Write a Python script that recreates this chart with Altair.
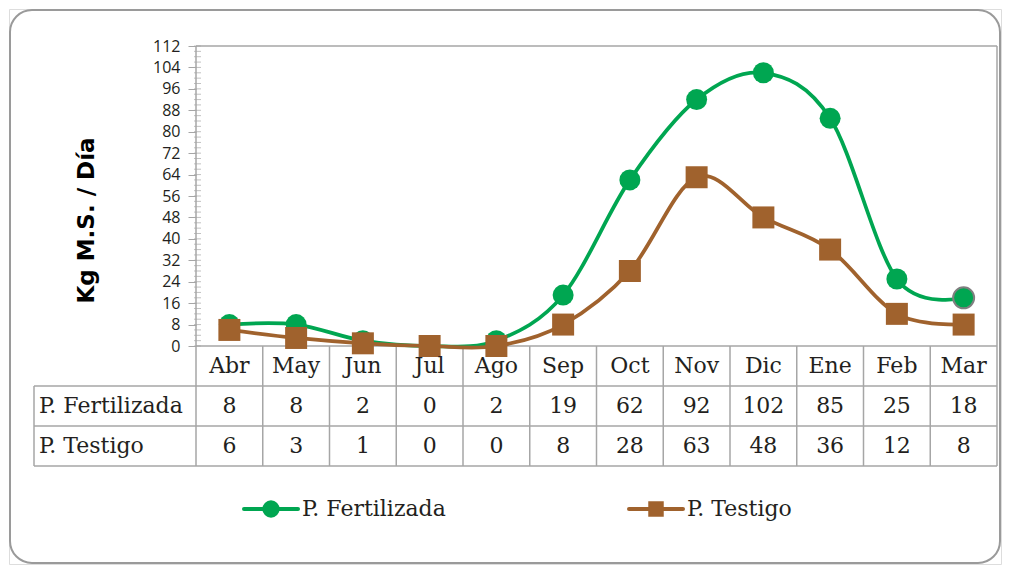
import altair as alt
import pandas as pd

# ---------------- data ----------------
months = ["Abr", "May", "Jun", "Jul", "Ago", "Sep", "Oct", "Nov", "Dic", "Ene", "Feb", "Mar"]
series_names = ["P. Fertilizada", "P. Testigo"]
fertilizada = [8, 8, 2, 0, 2, 19, 62, 92, 102, 85, 25, 18]
testigo = [6, 3, 1, 0, 0, 8, 28, 63, 48, 36, 12, 8]
y_ticks = list(range(0, 113, 8))
y_minor = list(range(0, 113, 2))

# ---------------- layout (page pixels) ----------------
PAD = 1
ORIG = 8 + PAD               # page px of the view's top-left corner
W, H = 992, 555
P_X0, P_LABEL, P_XR = 196, 34, 997     # first column left, label column left, last column right
P_Y112, P_Y0 = 46, 346                 # y=112 and y=0
ROW_PX = 40
LEG_Y = 509
LEG_X = [244, 629]
LEG_SYM_W = 54
FRAME = [10, 1000, 10, 563]            # frame left, right, top, bottom

n = len(months)
X0 = P_X0 - ORIG
Y0 = P_Y0 - ORIG
kx = (P_XR - P_X0) / n
ky = (P_Y0 - P_Y112) / 112.0
x_dom = [-X0 / kx, (W - X0) / kx]
y_dom = [-(H - Y0) / ky, Y0 / ky]
xl = (P_LABEL - P_X0) / kx
row_u = ROW_PX / ky


def px_x(p):
    return (p - P_X0) / kx


def px_y(p):
    return (P_Y0 - p) / ky


GREEN = "#00A651"
BROWN = "#A0622D"
GRID = "#A6A6A6"
TXT = "#231F20"
SERIF = "DejaVu Serif"

XS = alt.Scale(domain=x_dom, nice=False, zero=False)
YS = alt.Scale(domain=y_dom, nice=False, zero=False)
YAX = alt.Axis(
    values=y_ticks, offset=-X0, domain=False, grid=False,
    tickSize=8, tickColor=GRID, tickWidth=1,
    labelFont="Open Sans", labelFontSize=16, labelColor=TXT, labelPadding=8,
    title="Kg M.S. / Día", titleFont="DejaVu Sans", titleFontSize=23,
    titleFontWeight="bold", titleColor="#000000", titleX=86 - P_X0, titleY=220 - ORIG,
    titleAlign="center", titleBaseline="middle", titleAngle=270,
)


def X(f):
    return alt.X(f, type="quantitative", scale=XS, axis=None)


def Y(f):
    return alt.Y(f, type="quantitative", scale=YS, axis=YAX)


# ---------------- tables ----------------
rows = []
for i, m in enumerate(months):
    rows.append({"series": series_names[0], "month": m, "x": i + 0.5, "value": fertilizada[i]})
    rows.append({"series": series_names[1], "month": m, "x": i + 0.5, "value": testigo[i]})
df = pd.DataFrame(rows)

cells = []
for i, m in enumerate(months):
    cells.append({"x": i + 0.5, "y": -0.5 * row_u, "t": m})
    cells.append({"x": i + 0.5, "y": -1.5 * row_u, "t": str(fertilizada[i])})
    cells.append({"x": i + 0.5, "y": -2.5 * row_u, "t": str(testigo[i])})
df_cells = pd.DataFrame(cells)
df_labels = pd.DataFrame([
    {"x": xl, "y": -1.5 * row_u, "t": series_names[0]},
    {"x": xl, "y": -2.5 * row_u, "t": series_names[1]},
])

bottom = -3 * row_u
rules = []
rules.append({"x": 0, "x2": 0, "y": bottom, "y2": 112})
rules.append({"x": n, "x2": n, "y": bottom, "y2": 112})
for i in range(1, n):
    rules.append({"x": i, "x2": i, "y": bottom, "y2": 0})
rules.append({"x": xl, "x2": xl, "y": bottom, "y2": -row_u})
rules.append({"x": 0, "x2": n, "y": 112, "y2": 112})
rules.append({"x": 0, "x2": n, "y": 0, "y2": 0})
for r in (1, 2, 3):
    rules.append({"x": xl, "x2": n, "y": -r * row_u, "y2": -r * row_u})
df_rules = pd.DataFrame(rules)

df_minor = pd.DataFrame({"x": [0] * len(y_minor), "y": y_minor})

leg = []
for k, s in enumerate(series_names):
    x0 = LEG_X[k]
    leg.append({"series": s, "x": px_x(x0), "x2": px_x(x0 + LEG_SYM_W),
                "xc": px_x(x0 + LEG_SYM_W / 2), "xt": px_x(x0 + LEG_SYM_W + 4),
                "y": px_y(LEG_Y)})
df_leg = pd.DataFrame(leg)

df_frame = pd.DataFrame([{"x": px_x(FRAME[0]), "x2": px_x(FRAME[1]),
                          "y": px_y(FRAME[2]), "y2": px_y(FRAME[3])}])

col_scale = alt.Scale(domain=series_names, range=[GREEN, BROWN])

base = alt.Chart(df)

frame = alt.Chart(df_frame).mark_rect(filled=False, stroke="#9A9A9A", strokeWidth=2, cornerRadius=22).encode(
    x=X("x"), x2="x2", y=Y("y"), y2="y2")

grid = alt.Chart(df_rules).mark_rule(color=GRID, strokeWidth=1.5).encode(
    x=X("x"), x2="x2", y=Y("y"), y2="y2")

minor = alt.Chart(df_minor).mark_tick(orient="horizontal", color=GRID, size=7, thickness=1, xOffset=1.5).encode(
    x=X("x"), y=Y("y"))

lines = base.mark_line(interpolate="cardinal", strokeWidth=3.75).encode(
    x=X("x"), y=Y("value"), color=alt.Color("series:N", scale=col_scale, legend=None), detail="series:N")

pts_f = base.transform_filter(alt.datum.series == series_names[0]).mark_point(
    filled=True, opacity=1, shape="circle", size=441, color=GREEN).encode(
    x=X("x"), y=Y("value"),
    stroke=alt.condition("datum.month === 'Mar'", alt.value("#7F7F7F"), alt.value(GREEN)),
    strokeWidth=alt.condition("datum.month === 'Mar'", alt.value(2), alt.value(0)),
)
pts_t = base.transform_filter(alt.datum.series == series_names[1]).mark_point(
    filled=True, opacity=1, shape="square", size=484, color=BROWN).encode(
    x=X("x"), y=Y("value"))

leg_base = alt.Chart(df_leg)
leg_line = leg_base.mark_rule(strokeWidth=4, strokeCap="round").encode(
    x=X("x"), x2="x2", y=Y("y"),
    color=alt.Color("series:N", scale=col_scale, legend=None))
leg_circ = leg_base.transform_filter(alt.datum.series == series_names[0]).mark_point(
    filled=True, opacity=1, shape="circle", size=300, color=GREEN).encode(x=X("xc"), y=Y("y"))
leg_sq = leg_base.transform_filter(alt.datum.series == series_names[1]).mark_point(
    filled=True, opacity=1, shape="square", size=240, color=BROWN).encode(x=X("xc"), y=Y("y"))
leg_txt = leg_base.mark_text(font=SERIF, fontSize=22, color=TXT, baseline="middle", align="left").encode(
    x=X("xt"), y=Y("y"), text="series:N")

cell_text = alt.Chart(df_cells).mark_text(font=SERIF, fontSize=22, color=TXT, baseline="middle", align="center").encode(
    x=X("x"), y=Y("y"), text="t:N")

label_text = alt.Chart(df_labels).mark_text(font=SERIF, fontSize=22, color=TXT, baseline="middle", align="left", dx=5).encode(
    x=X("x"), y=Y("y"), text="t:N")

chart = alt.layer(frame, grid, minor, lines, pts_f, pts_t, cell_text, label_text,
                  leg_line, leg_circ, leg_sq, leg_txt).properties(
    width=W, height=H, autosize="none", padding=PAD,
).configure_view(
    strokeWidth=0, fill="white",
).configure(background="white")

chart.save("out.html", embed_options={"renderer": "svg", "actions": False})
